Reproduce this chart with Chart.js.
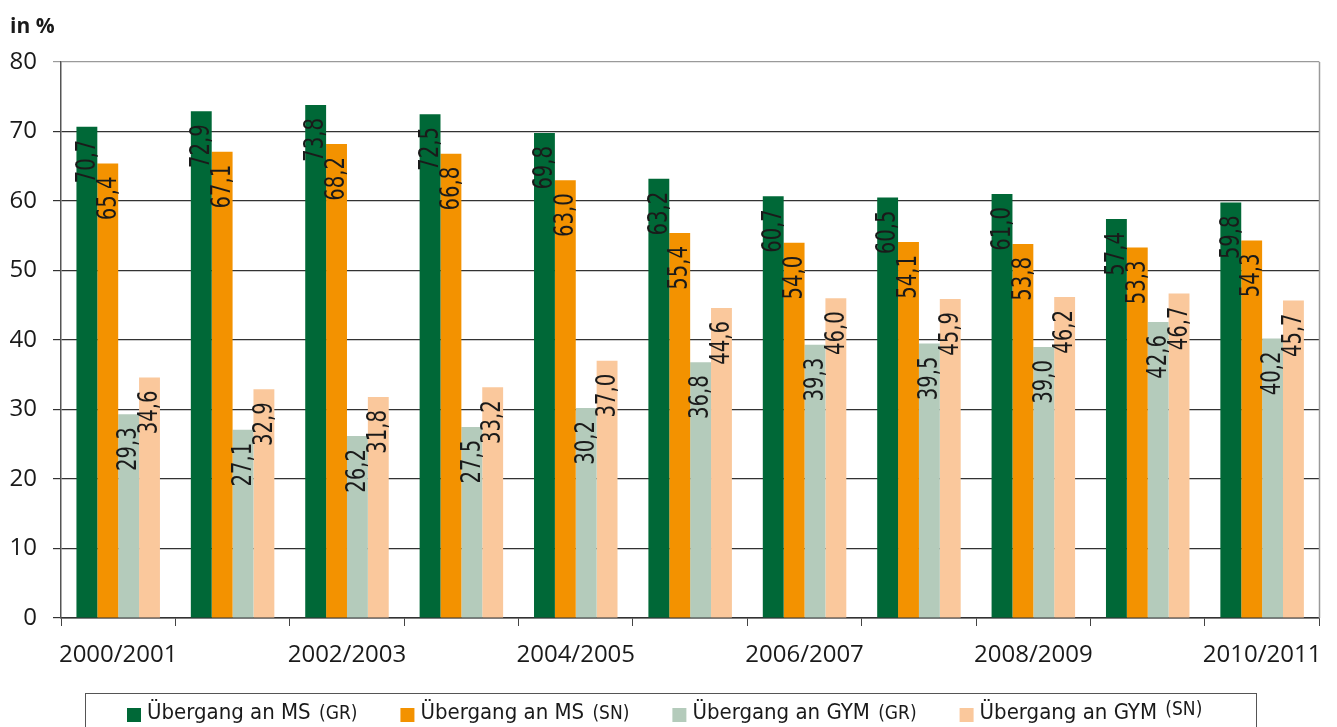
<!DOCTYPE html>
<html>
<head>
<meta charset="utf-8">
<script src="https://cdn.jsdelivr.net/npm/chart.js@4/dist/chart.umd.min.js"></script>
<style>
  html, body { margin: 0; padding: 0; background: #fff; }
  #wrap { width: 1337px; height: 727px; position: relative; }
</style>
</head>
<body>
<div id="wrap"><canvas id="c" width="1337" height="727"></canvas></div>
<script>
// School years
const categories = ['2000/2001', '2001/2002', '2002/2003', '2003/2004', '2004/2005', '2005/2006',
                    '2006/2007', '2007/2008', '2008/2009', '2009/2010', '2010/2011'];

// Transition rates in %
const msGR  = [70.7, 72.9, 73.8, 72.5, 69.8, 63.2, 60.7, 60.5, 61.0, 57.4, 59.8];
const msSN  = [65.4, 67.1, 68.2, 66.8, 63.0, 55.4, 54.0, 54.1, 53.8, 53.3, 54.3];
const gymGR = [29.3, 27.1, 26.2, 27.5, 30.2, 36.8, 39.3, 39.5, 39.0, 42.6, 40.2];
const gymSN = [34.6, 32.9, 31.8, 33.2, 37.0, 44.6, 46.0, 45.9, 46.2, 46.7, 45.7];

// Series names: main text and smaller region tag
const seriesNames = ['Übergang an MS', 'Übergang an MS', 'Übergang an GYM', 'Übergang an GYM'];
const seriesTags  = ['(GR)', '(SN)', '(GR)', '(SN)'];
const seriesColors = ['#006837', '#F39200', '#B4CBBB', '#FAC89C'];

const yAxisTitle = 'in %';

const condensed = "'DejaVu Sans Condensed', 'Liberation Sans Narrow', 'DejaVu Sans', sans-serif";
const tickFont = "'Open Sans', 'DejaVu Sans', sans-serif";

const fmt = v => v.toFixed(1).replace('.', ',');

// Vertical value labels inside the top of each bar (narrowed along the text direction)
const valueLabels = {
  id: 'valueLabels',
  afterDatasetsDraw(chart) {
    const ctx = chart.ctx;
    ctx.save();
    ctx.fillStyle = '#1a1a1a';
    ctx.font = '26px ' + condensed;
    ctx.textAlign = 'right';
    ctx.textBaseline = 'middle';
    chart.data.datasets.forEach((ds, di) => {
      const meta = chart.getDatasetMeta(di);
      meta.data.forEach((el, i) => {
        ctx.save();
        ctx.translate(el.x + 1, el.y + 13);
        ctx.rotate(-Math.PI / 2);
        ctx.scale(0.84, 1);
        ctx.fillText(fmt(ds.data[i]), 0, 0);
        ctx.restore();
      });
    });
    ctx.restore();
  }
};

// Frame on the right, axis unit label, and a boxed legend at the bottom
const decorations = {
  id: 'decorations',
  afterDraw(chart) {
    const ctx = chart.ctx;
    const a = chart.chartArea;
    ctx.save();
    ctx.strokeStyle = '#9a9a9a';
    ctx.lineWidth = 1.5;
    ctx.beginPath();
    ctx.moveTo(Math.round(a.right) + 0.5, a.top);
    ctx.lineTo(Math.round(a.right) + 0.5, a.bottom);
    ctx.stroke();

    ctx.fillStyle = '#1a1a1a';
    ctx.font = 'bold 21px ' + tickFont;
    ctx.textAlign = 'left';
    ctx.textBaseline = 'alphabetic';
    ctx.fillText(yAxisTitle, 10, 33);

    // legend box
    ctx.strokeStyle = '#555';
    ctx.lineWidth = 1;
    ctx.strokeRect(85.5, 693.5, 1171, 60);

    const mainFont = '22px ' + condensed;
    const tagFont = '19px ' + condensed;
    let x = 127;
    const base = 719;
    chart.data.datasets.forEach((ds, i) => {
      ctx.fillStyle = ds.backgroundColor;
      ctx.fillRect(x, base - 11, 14, 14);
      x += 20;
      ctx.fillStyle = '#1a1a1a';
      ctx.textBaseline = 'alphabetic';
      ctx.font = mainFont;
      const main = seriesNames[i] + ' ';
      ctx.fillText(main, x, base);
      x += ctx.measureText(main).width + 2;
      ctx.font = tagFont;
      ctx.fillText(seriesTags[i], x, base - (i === 3 ? 4 : 0));
      x += ctx.measureText(seriesTags[i]).width + 43;
    });
    ctx.restore();
  }
};

const datasets = [msGR, msSN, gymGR, gymSN].map((d, i) => ({
  label: seriesNames[i] + ' ' + seriesTags[i],
  data: d,
  backgroundColor: seriesColors[i],
  borderWidth: 0,
  categoryPercentage: 0.73,
  barPercentage: 1.0
}));

new Chart(document.getElementById('c'), {
  type: 'bar',
  data: { labels: categories, datasets },
  options: {
    responsive: false,
    animation: false,
    devicePixelRatio: 1,
    layout: { padding: { top: 62, right: 13, bottom: 0, left: 0 } },
    plugins: {
      legend: { display: false },
      tooltip: { enabled: false }
    },
    scales: {
      x: {
        grid: {
          offset: true,
          drawOnChartArea: false,
          drawTicks: true,
          tickLength: 8,
          color: '#444'
        },
        border: { color: '#333', width: 1.5 },
        ticks: {
          autoSkip: false,
          maxRotation: 0,
          padding: 15,
          color: '#1a1a1a',
          font: { family: tickFont, size: 24 },
          callback: (v, i) => (i % 2 === 0 ? categories[i] : '')
        },
        afterFit: s => { s.height = 109; }
      },
      y: {
        min: 0,
        max: 80,
        ticks: {
          stepSize: 10,
          padding: 16,
          color: '#1a1a1a',
          font: { family: tickFont, size: 24 }
        },
        grid: {
          tickLength: 8,
          lineWidth: 1.2,
          color: ctx => (ctx.tick && ctx.tick.value === 80 ? '#9a9a9a' : '#333')
        },
        border: { color: '#555', width: 1.5 },
        afterFit: s => { s.width = 61; }
      }
    }
  },
  plugins: [valueLabels, decorations]
});
</script>
</body>
</html>
